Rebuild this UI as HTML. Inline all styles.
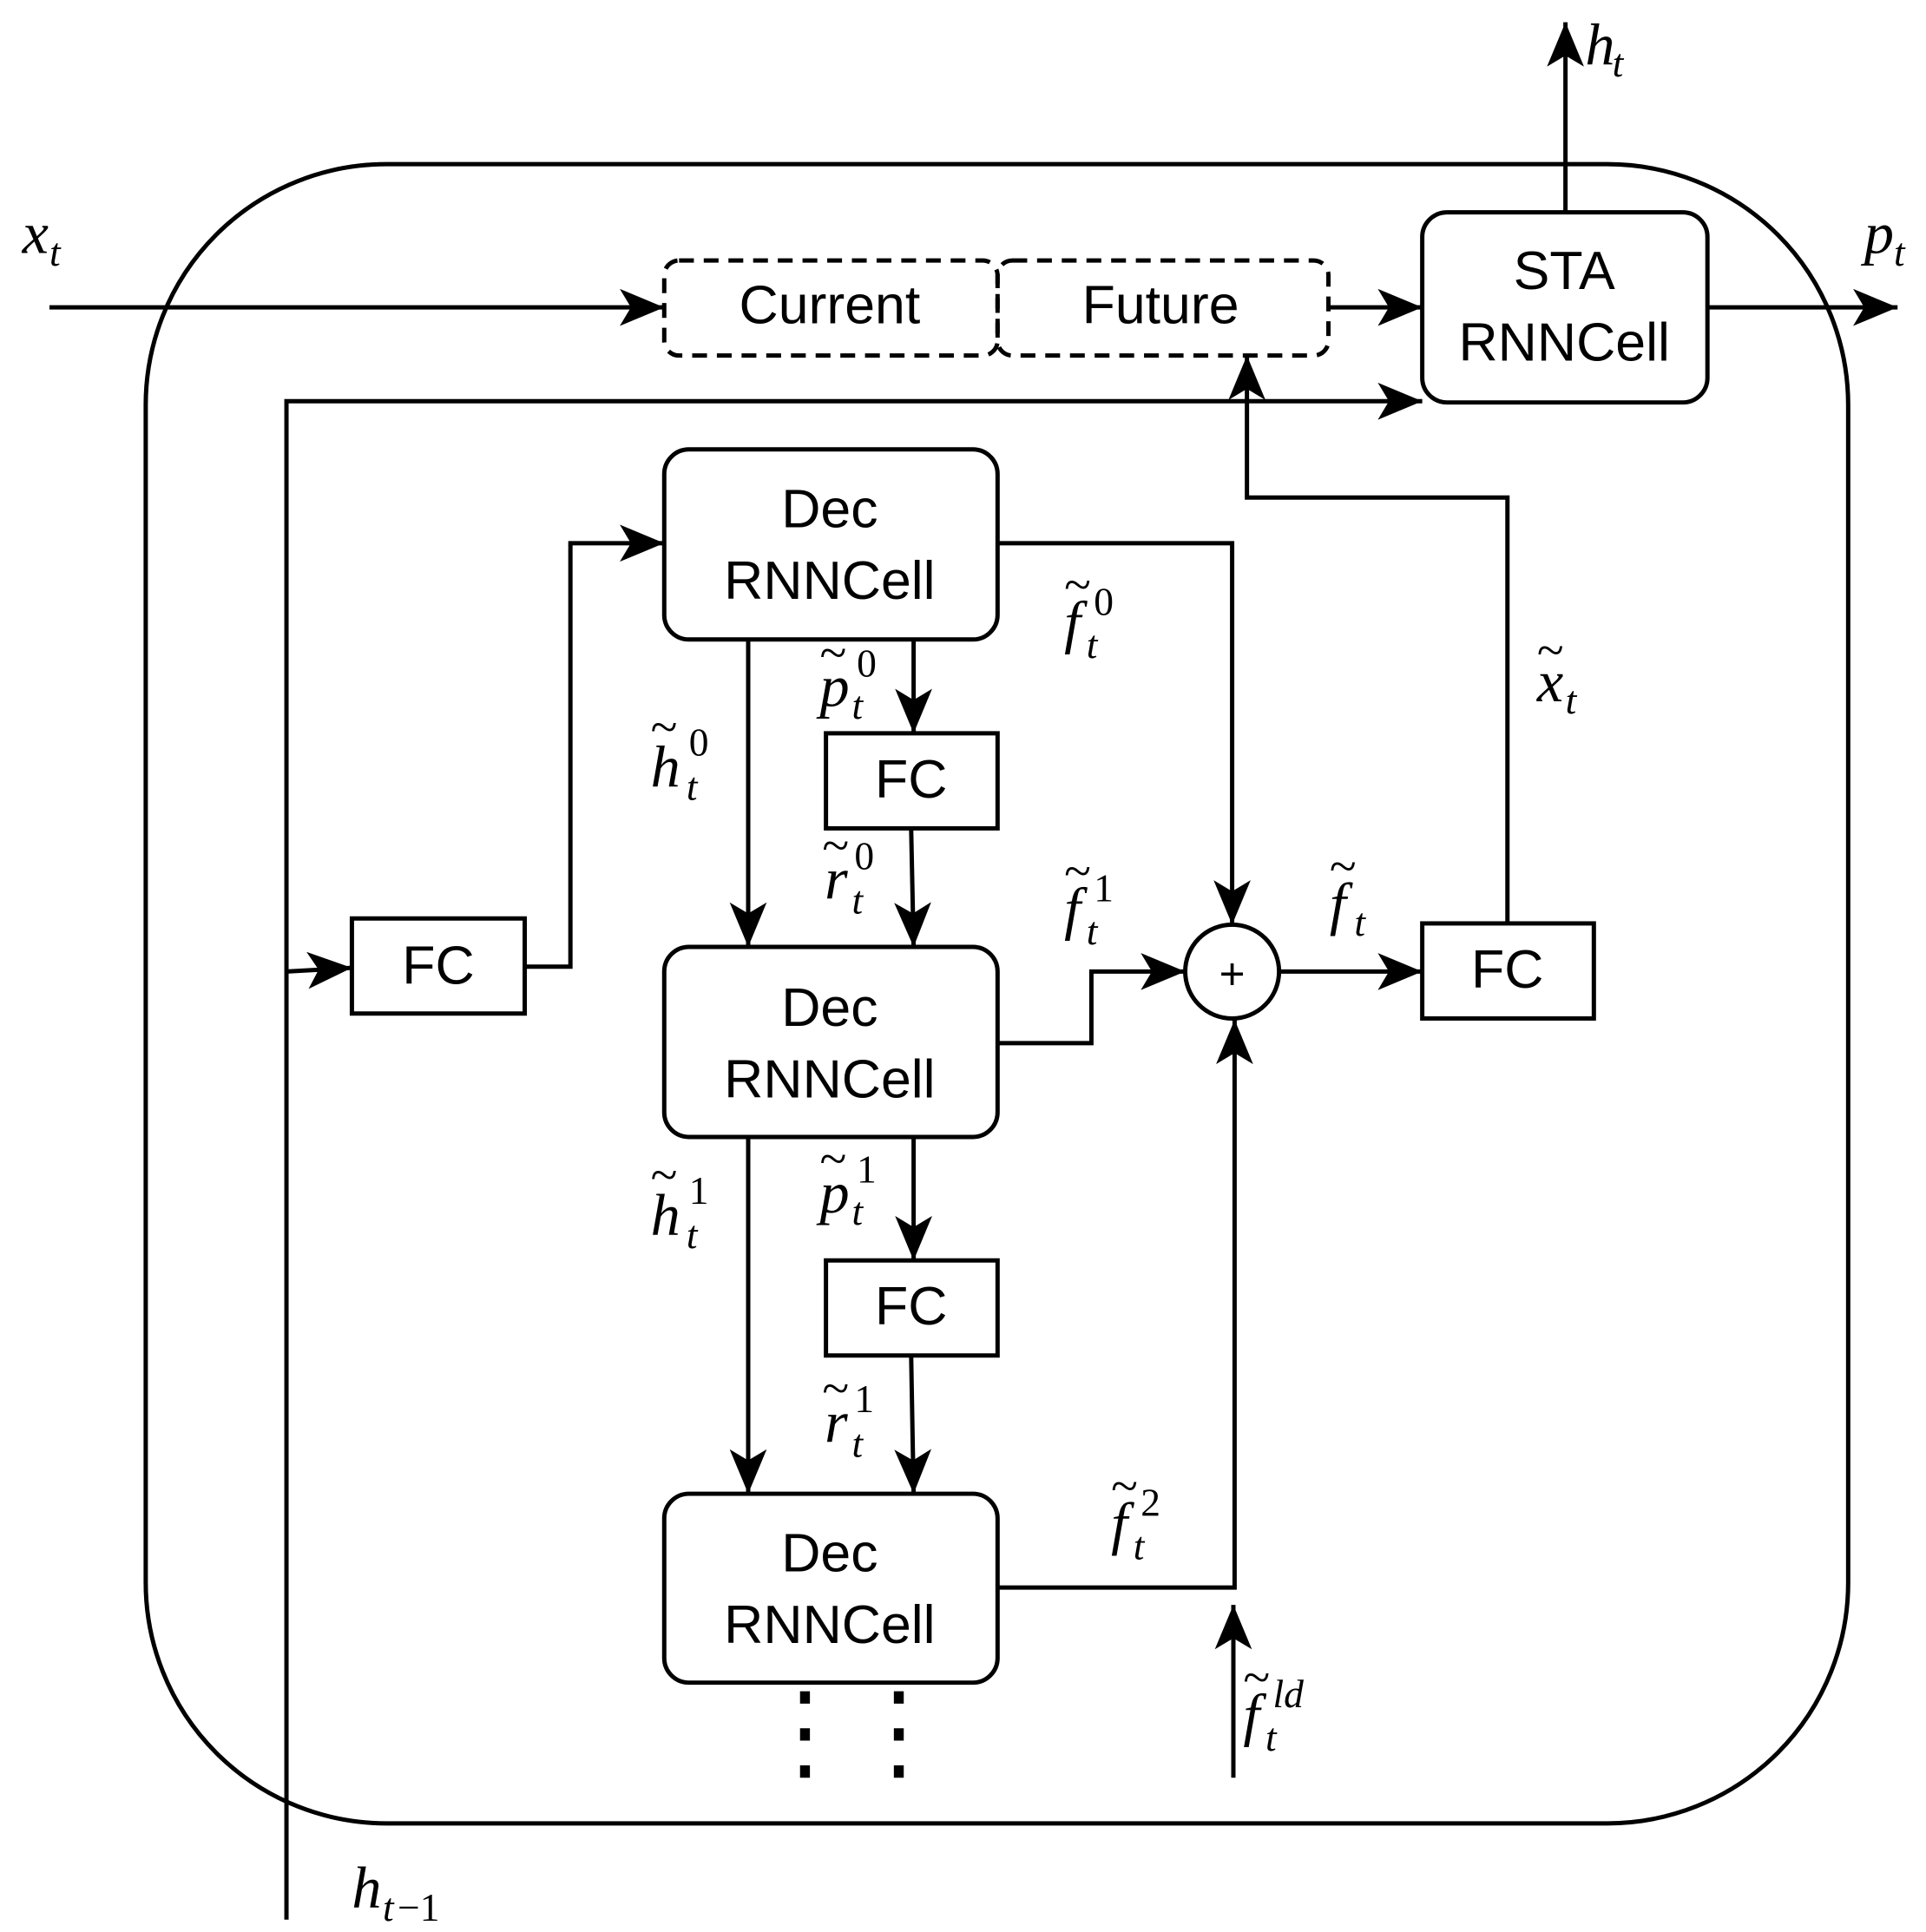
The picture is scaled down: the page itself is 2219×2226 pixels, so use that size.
<!DOCTYPE html>
<html><head><meta charset="utf-8"><style>
html,body{margin:0;padding:0;background:#fff}
svg{display:block}
.s{font-family:"Liberation Sans",sans-serif;font-size:44px;text-anchor:middle}
.m{font-family:"Liberation Serif",serif;font-style:italic;font-size:48px}
.sb{font-family:"Liberation Serif",serif;font-style:italic;font-size:32px}
.sp{font-family:"Liberation Serif",serif;font-style:normal;font-size:32px}
.tl{font-family:"Liberation Serif",serif;font-size:40px}
</style></head><body>
<svg width="2219" height="2226" viewBox="0 0 1560 1565" xmlns="http://www.w3.org/2000/svg">
<defs>
<marker id="a" markerUnits="userSpaceOnUse" markerWidth="40" markerHeight="34" refX="36" refY="15" orient="auto">
<path d="M0,0 L36,15 L0,30 L9,15 z" fill="#000"/>
</marker>
</defs>
<g fill="none" stroke="#000" stroke-width="3.5">
<rect x="118" y="133" width="1379" height="1344" rx="195" ry="195"/>
<line x1="40" y1="249" x2="538" y2="249" marker-end="url(#a)"/>
<rect x="538" y="211" width="270" height="77" rx="12" stroke-dasharray="12,8"/>
<rect x="808" y="211" width="268" height="77" rx="12" stroke-dasharray="12,8"/>
<line x1="1076" y1="249" x2="1152" y2="249" marker-end="url(#a)"/>
<rect x="1152" y="172" width="231" height="154" rx="20"/>
<line x1="1268" y1="172" x2="1268" y2="18" marker-end="url(#a)"/>
<line x1="1383" y1="249" x2="1537" y2="249" marker-end="url(#a)"/>
<polyline points="232,1555 232,325 1152,325" marker-end="url(#a)"/>
<line x1="232" y1="787" x2="285" y2="784" marker-end="url(#a)"/>
<rect x="285" y="744" width="140" height="77"/>
<polyline points="425,783 462,783 462,440 538,440" marker-end="url(#a)"/>
<rect x="538" y="364" width="270" height="154" rx="20"/>
<polyline points="808,440 998,440 998,749" marker-end="url(#a)"/>
<circle cx="998" cy="787" r="38"/>
<line x1="606" y1="518" x2="606" y2="767" marker-end="url(#a)"/>
<line x1="740" y1="518" x2="740" y2="594" marker-end="url(#a)"/>
<rect x="669" y="594" width="139" height="77"/>
<line x1="738" y1="671" x2="740" y2="767" marker-end="url(#a)"/>
<rect x="538" y="767" width="270" height="154" rx="20"/>
<polyline points="808,845 884,845 884,787 960,787" marker-end="url(#a)"/>
<line x1="1036" y1="787" x2="1152" y2="787" marker-end="url(#a)"/>
<rect x="1152" y="748" width="139" height="77"/>
<polyline points="1221,748 1221,403 1010,403 1010,288" marker-end="url(#a)"/>
<line x1="606" y1="921" x2="606" y2="1210" marker-end="url(#a)"/>
<line x1="740" y1="921" x2="740" y2="1021" marker-end="url(#a)"/>
<rect x="669" y="1021" width="139" height="77"/>
<line x1="738" y1="1098" x2="740" y2="1210" marker-end="url(#a)"/>
<rect x="538" y="1210" width="270" height="153" rx="20"/>
<polyline points="808,1286 1000,1286 1000,826" marker-end="url(#a)"/>
<line x1="999" y1="1440" x2="999" y2="1300" marker-end="url(#a)"/>
<line x1="652" y1="1370" x2="652" y2="1440" stroke-width="8" stroke-dasharray="10,20"/>
<line x1="728" y1="1370" x2="728" y2="1440" stroke-width="8" stroke-dasharray="10,20"/>
</g>
<text x="998" y="801" class="s" style="font-size:36px">+</text>
<text x="672" y="262" class="s">Current</text>
<text x="940" y="262" class="s">Future</text>
<text x="1267" y="234" class="s">STA</text>
<text x="1267" y="292" class="s">RNNCell</text>
<text x="355" y="797" class="s">FC</text>
<text x="738" y="646" class="s">FC</text>
<text x="738" y="1073" class="s">FC</text>
<text x="1221" y="800" class="s">FC</text>
<text x="672" y="427" class="s">Dec</text><text x="672" y="485" class="s">RNNCell</text>
<text x="672" y="831" class="s">Dec</text><text x="672" y="889" class="s">RNNCell</text>
<text x="672" y="1273" class="s">Dec</text><text x="672" y="1331" class="s">RNNCell</text>

<text x="18" y="205" class="m">x</text><text x="40" y="215" class="sb">t</text>
<text x="1284" y="52" class="m">h</text><text x="1306" y="62" class="sb">t</text>
<text x="1510" y="205" class="m">p</text><text x="1534" y="215" class="sb">t</text>
<text x="285" y="1545" class="m">h</text><text x="310" y="1556" class="sb">t</text><text x="322" y="1556" class="sp">−1</text>

<g>
<text x="862" y="520" class="m">f</text><text x="880" y="533" class="sb">t</text><text x="886" y="498" class="sp">0</text><text x="862" y="487" class="tl">~</text>
<text x="664" y="572" class="m">p</text><text x="690" y="582" class="sb">t</text><text x="694" y="548" class="sp">0</text><text x="664" y="542" class="tl">~</text>
<text x="527" y="637" class="m">h</text><text x="556" y="648" class="sb">t</text><text x="558" y="612" class="sp">0</text><text x="527" y="602" class="tl">~</text>
<text x="668" y="728" class="m">r</text><text x="690" y="740" class="sb">t</text><text x="692" y="704" class="sp">0</text><text x="666" y="698" class="tl">~</text>
<text x="862" y="752" class="m">f</text><text x="880" y="765" class="sb">t</text><text x="886" y="730" class="sp">1</text><text x="862" y="719" class="tl">~</text>
<text x="1077" y="748" class="m">f</text><text x="1097" y="758" class="sb">t</text><text x="1077" y="715" class="tl">~</text>
<text x="1245" y="568" class="m">x</text><text x="1268" y="578" class="sb">t</text><text x="1245" y="540" class="tl">~</text>
<text x="527" y="1000" class="m">h</text><text x="556" y="1011" class="sb">t</text><text x="558" y="975" class="sp">1</text><text x="527" y="965" class="tl">~</text>
<text x="664" y="982" class="m">p</text><text x="690" y="992" class="sb">t</text><text x="694" y="958" class="sp">1</text><text x="664" y="952" class="tl">~</text>
<text x="668" y="1168" class="m">r</text><text x="690" y="1180" class="sb">t</text><text x="692" y="1144" class="sp">1</text><text x="666" y="1138" class="tl">~</text>
<text x="900" y="1250" class="m">f</text><text x="918" y="1263" class="sb">t</text><text x="924" y="1228" class="sp">2</text><text x="900" y="1217" class="tl">~</text>
<text x="1007" y="1405" class="m">f</text><text x="1025" y="1418" class="sb">t</text><text x="1031" y="1383" class="sb">ld</text><text x="1007" y="1372" class="tl">~</text>
</g>
</svg>
</body></html>
